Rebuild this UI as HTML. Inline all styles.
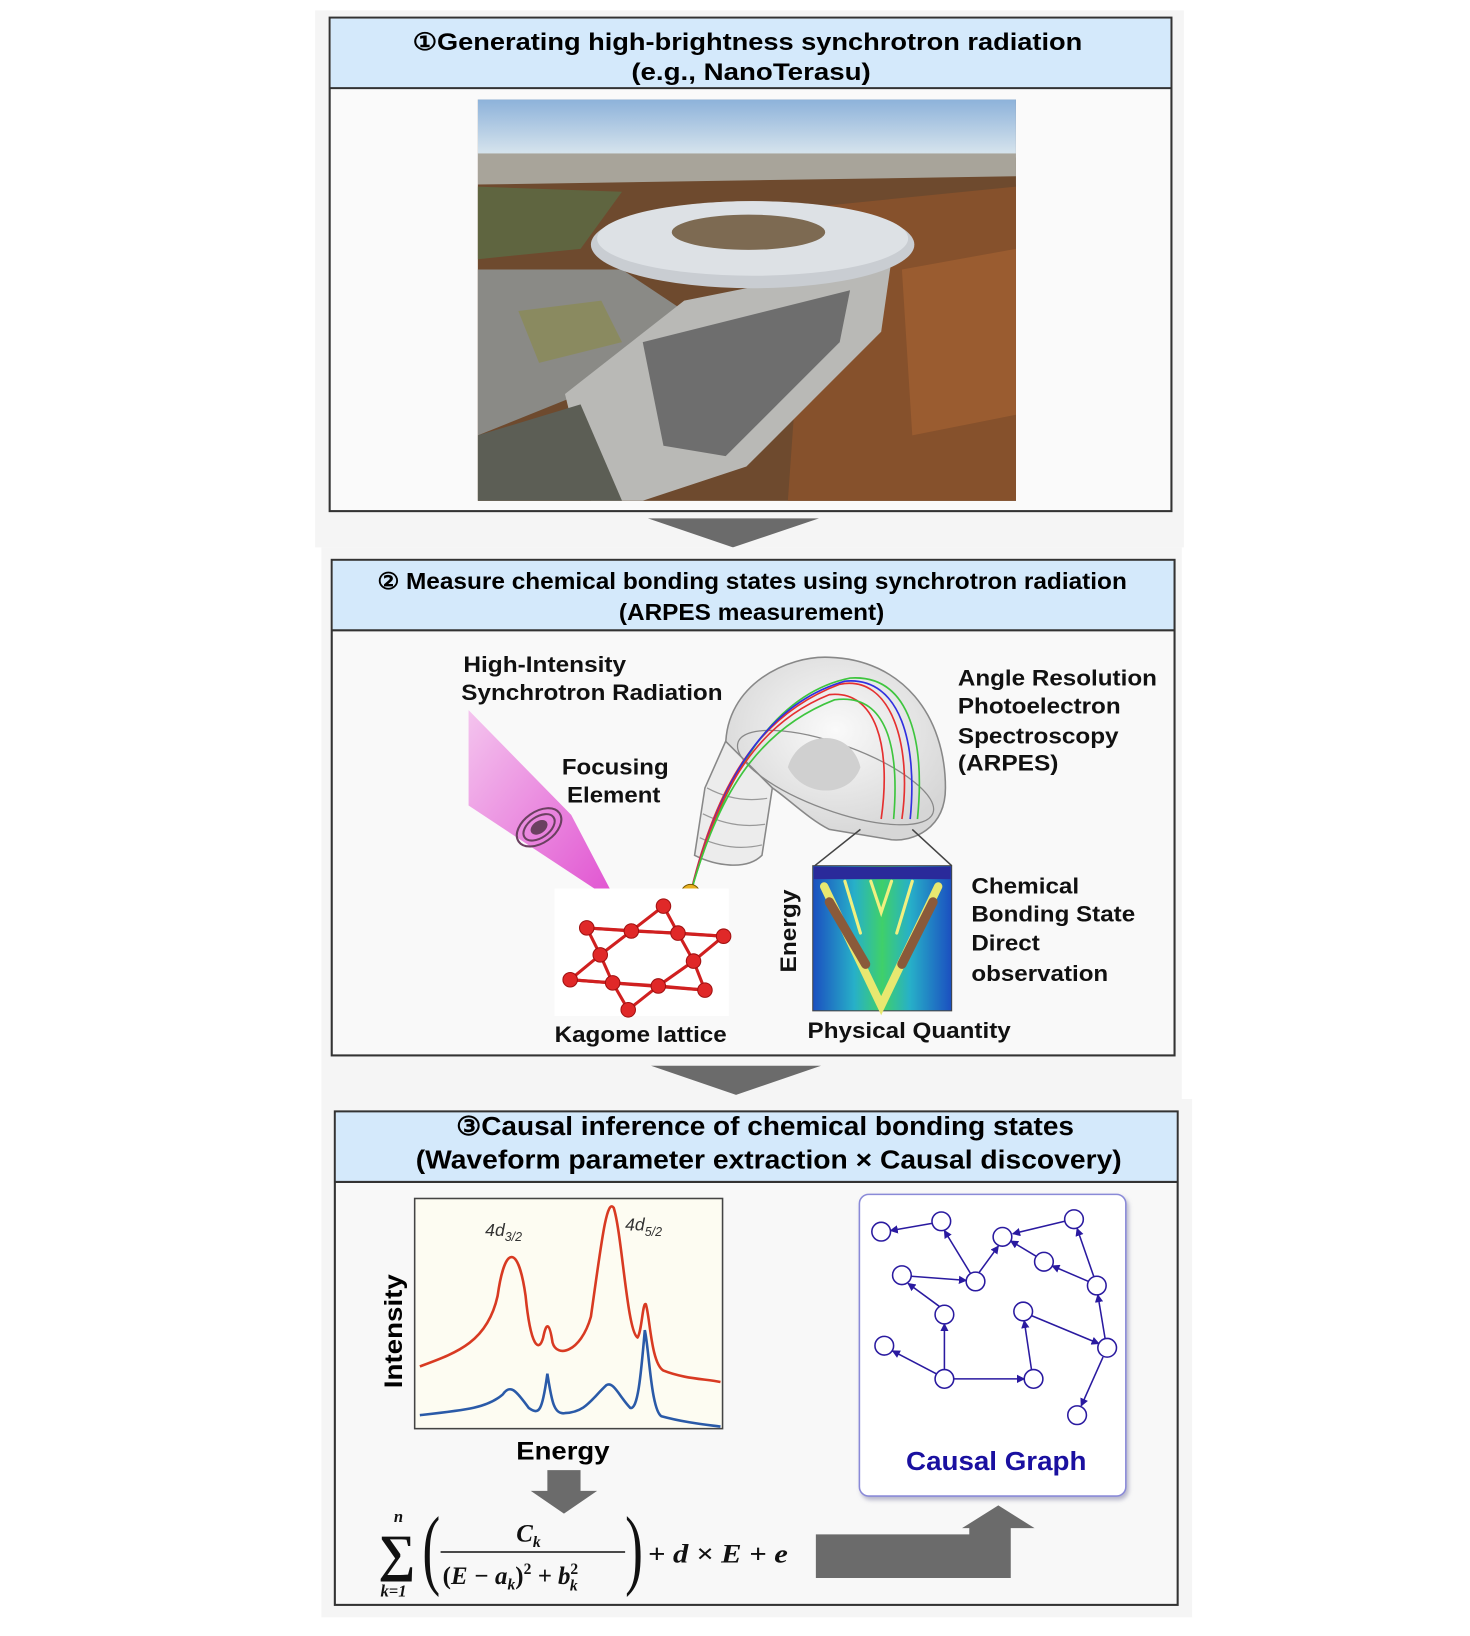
<!DOCTYPE html>
<html><head><meta charset="utf-8"><style>html,body{margin:0;padding:0;background:#fff}svg{display:block}</style></head><body>
<svg width="1470" height="1636" viewBox="0 0 1418 1578" preserveAspectRatio="none" xmlns="http://www.w3.org/2000/svg" font-family="Liberation Sans, sans-serif">
<defs>
<linearGradient id="sky" x1="0" y1="0" x2="0" y2="1"><stop offset="0" stop-color="#8db2da"/><stop offset="1" stop-color="#dbe7ee"/></linearGradient>
<linearGradient id="pink" x1="0" y1="0" x2="1" y2="1"><stop offset="0" stop-color="#f4c4ee"/><stop offset="1" stop-color="#e04fd0"/></linearGradient>
<radialGradient id="dome" cx="0.5" cy="0.4" r="0.6"><stop offset="0" stop-color="#fafafa"/><stop offset="1" stop-color="#d6d6d6"/></radialGradient>
<linearGradient id="arp" x1="0" y1="0" x2="1" y2="0"><stop offset="0" stop-color="#1b4fc0"/><stop offset="0.3" stop-color="#27b0c8"/><stop offset="0.5" stop-color="#3fd06a"/><stop offset="0.7" stop-color="#27b0c8"/><stop offset="1" stop-color="#1b4fc0"/></linearGradient>
<marker id="ah" markerWidth="8" markerHeight="8" refX="7" refY="4" orient="auto" markerUnits="userSpaceOnUse"><path d="M0,0 L8,4 L0,8 z" fill="#2a1aa0"/></marker>
<filter id="sh"><feDropShadow dx="2" dy="3" stdDeviation="2" flood-color="#8888aa" flood-opacity="0.6"/></filter>
</defs>

<!-- Panel 1 -->
<rect x="304" y="10" width="838" height="518" fill="#f5f5f5"/>
<rect x="318" y="17" width="812" height="476" fill="#fafafa" stroke="#333" stroke-width="2"/>
<rect x="319" y="18" width="810" height="67" fill="#d4e9fb"/>
<line x1="318" y1="85" x2="1130" y2="85" stroke="#333" stroke-width="2"/>
<text x="398" y="48" font-size="23" font-weight="bold" textLength="646" lengthAdjust="spacingAndGlyphs">①Generating high-brightness synchrotron radiation</text>
<text x="609" y="77" font-size="23" font-weight="bold" textLength="231" lengthAdjust="spacingAndGlyphs">(e.g., NanoTerasu)</text>
<!-- photo -->
<rect x="461" y="96" width="519" height="387" fill="#6a4a30"/>
<rect x="461" y="96" width="519" height="56" fill="url(#sky)"/>
<rect x="461" y="148" width="519" height="30" fill="#a8a49a"/>
<path d="M461,178 L980,170 L980,483 L461,483 z" fill="#6e4a2e"/>
<path d="M780,200 L980,180 L980,483 L760,483 z" fill="#86512c"/>
<path d="M870,260 L980,240 L980,400 L880,420 z" fill="#9a5c30"/>
<path d="M461,180 L600,185 L560,240 L461,250 z" fill="#5f6540"/>
<path d="M461,260 L600,260 L660,300 L560,380 L461,420 z" fill="#8a8a86"/>
<path d="M500,300 L580,290 L600,330 L520,350 z" fill="#8a8a60"/>
<path d="M545,380 L660,290 L860,250 L850,320 L720,450 L620,483 L570,483 z" fill="#b9b9b6"/>
<path d="M620,330 L820,280 L810,330 L700,440 L640,430 z" fill="#6e6e6e"/>
<path d="M461,420 L560,390 L600,483 L461,483 z" fill="#5c5e55"/>
<ellipse cx="726" cy="236" rx="156" ry="42" fill="#c9cdd2"/>
<ellipse cx="726" cy="230" rx="150" ry="36" fill="#dde1e5"/>
<ellipse cx="722" cy="224" rx="74" ry="17" fill="#7d6a52"/>

<polygon points="625,500 790,500 707,528" fill="#6b6b6b"/>

<!-- Panel 2 -->
<rect x="310" y="528" width="830" height="532" fill="#f5f5f5"/>
<rect x="320" y="540" width="813" height="478" fill="#f9f9f9" stroke="#333" stroke-width="2"/>
<rect x="321" y="541" width="811" height="67" fill="#d4e9fb"/>
<line x1="320" y1="608" x2="1133" y2="608" stroke="#333" stroke-width="2"/>
<text x="364" y="568" font-size="22" font-weight="bold" textLength="723" lengthAdjust="spacingAndGlyphs">② Measure chemical bonding states using synchrotron radiation</text>
<text x="597" y="598" font-size="22" font-weight="bold" textLength="256" lengthAdjust="spacingAndGlyphs">(ARPES measurement)</text>

<polygon points="452,685 452,777 596,872 551,786" fill="url(#pink)"/>
<g fill="none" stroke="#6b4060" stroke-width="2"><ellipse cx="520" cy="798" rx="24" ry="15" transform="rotate(-35 520 798)"/><ellipse cx="520" cy="798" rx="17" ry="10" transform="rotate(-35 520 798)"/></g>
<ellipse cx="520" cy="798" rx="9" ry="6" fill="#6b4060" transform="rotate(-35 520 798)"/>

<!-- analyzer -->
<path d="M700,720 C700,660 760,632 800,634 C870,636 912,690 912,760 C912,800 880,812 860,810 L800,800 C780,790 760,770 745,760 Z" fill="url(#dome)" stroke="#888" stroke-width="1.5"/>
<path d="M700,715 L745,760 L735,825 C720,840 690,835 670,825 L680,760 Z" fill="#ececec" stroke="#888" stroke-width="1.5"/>
<g fill="none" stroke="#999" stroke-width="1.2"><path d="M682,760 Q710,775 740,770"/><path d="M678,785 Q708,800 738,795"/><path d="M675,808 Q705,822 735,815"/></g>
<ellipse cx="806" cy="750" rx="100" ry="32" fill="none" stroke="#888" stroke-width="1.2" transform="rotate(20 806 750)"/>
<path d="M760,740 C770,705 820,700 830,740 C820,770 775,770 760,740 Z" fill="#d0d0d0"/>
<g fill="none" stroke-width="1.6"><path d="M666,862 C690,760 730,690 810,660 C860,650 880,720 870,790" stroke="#e53030"/><path d="M666,862 C695,760 740,670 820,654 C880,650 892,720 885,790" stroke="#3ec53e"/><path d="M666,862 C692,760 735,680 815,657 C870,652 885,720 878,790" stroke="#3030e0"/><path d="M666,862 C690,770 725,700 800,670 C845,665 860,720 850,790" stroke="#e53030"/><path d="M666,862 C692,770 728,705 805,675 C855,668 868,720 862,790" stroke="#3ec53e"/></g>
<circle cx="666" cy="862" r="9" fill="#e8b020" stroke="#7a5a00"/>
<text x="666" y="867" text-anchor="middle" font-size="12" font-weight="bold">e</text>

<!-- kagome -->
<rect x="535" y="857" width="168" height="123" fill="#fff"/>
<g stroke="#d02020" stroke-width="3" fill="none">
<polyline points="566,895 698,903"/><polyline points="550,945 680,955"/>
<polygon points="566,895 609,898 579,921"/><polygon points="654,900 698,903 669,927"/>
<polygon points="550,945 579,921 591,948"/><polygon points="635,951 669,927 680,955"/>
<polygon points="591,948 635,951 606,974"/><polygon points="609,898 654,900 640,874"/>
</g>
<g fill="#e02828" stroke="#a01010">
<circle cx="640" cy="874" r="7"/><circle cx="566" cy="895" r="7"/><circle cx="609" cy="898" r="7"/><circle cx="654" cy="900" r="7"/><circle cx="698" cy="903" r="7"/><circle cx="579" cy="921" r="7"/><circle cx="669" cy="927" r="7"/><circle cx="550" cy="945" r="7"/><circle cx="591" cy="948" r="7"/><circle cx="635" cy="951" r="7"/><circle cx="680" cy="955" r="7"/><circle cx="606" cy="974" r="7"/></g>

<!-- arpes image -->
<line x1="830" y1="800" x2="786" y2="835" stroke="#444" stroke-width="1.5"/>
<line x1="880" y1="800" x2="918" y2="835" stroke="#444" stroke-width="1.5"/>
<rect x="784" y="835" width="134" height="140" fill="url(#arp)" stroke="#444"/>
<rect x="785" y="836" width="132" height="12" fill="#2a2a9a"/>
<g fill="none" stroke-linecap="round">
<path d="M795,855 L850,970 L905,855" stroke="#e8e870" stroke-width="8"/>
<path d="M800,870 L835,930" stroke="#8a5a3a" stroke-width="9"/>
<path d="M900,870 L870,930" stroke="#8a5a3a" stroke-width="9"/>
<path d="M815,850 L830,900 M880,850 L865,900 M840,850 L850,880 L860,850" stroke="#f0f080" stroke-width="3"/>
</g>

<g font-size="21" font-weight="bold" fill="#111" lengthAdjust="spacingAndGlyphs">
<text x="447" y="648" textLength="157" lengthAdjust="spacingAndGlyphs">High-Intensity</text><text x="445" y="675" textLength="252" lengthAdjust="spacingAndGlyphs">Synchrotron Radiation</text>
<text x="542" y="747" textLength="103" lengthAdjust="spacingAndGlyphs">Focusing</text><text x="547" y="774" textLength="90" lengthAdjust="spacingAndGlyphs">Element</text>
<text x="924" y="661" textLength="192" lengthAdjust="spacingAndGlyphs">Angle Resolution</text><text x="924" y="688" textLength="157" lengthAdjust="spacingAndGlyphs">Photoelectron</text><text x="924" y="717" textLength="155" lengthAdjust="spacingAndGlyphs">Spectroscopy</text><text x="924" y="743" textLength="97" lengthAdjust="spacingAndGlyphs">(ARPES)</text>
<text x="937" y="862" textLength="104" lengthAdjust="spacingAndGlyphs">Chemical</text><text x="937" y="889" textLength="158" lengthAdjust="spacingAndGlyphs">Bonding State</text><text x="937" y="917" textLength="66" lengthAdjust="spacingAndGlyphs">Direct</text><text x="937" y="946" textLength="132" lengthAdjust="spacingAndGlyphs">observation</text>
<text x="535" y="1005" textLength="166" lengthAdjust="spacingAndGlyphs">Kagome lattice</text><text x="779" y="1001" textLength="196" lengthAdjust="spacingAndGlyphs">Physical Quantity</text>
<text transform="translate(768,938) rotate(-90)" textLength="80" lengthAdjust="spacingAndGlyphs">Energy</text>
</g>

<polygon points="628,1028 792,1028 710,1056" fill="#6b6b6b"/>

<!-- Panel 3 -->
<rect x="310" y="1060" width="840" height="500" fill="#f5f5f5"/>
<rect x="323" y="1072" width="813" height="476" fill="#f8f8f8" stroke="#333" stroke-width="2"/>
<rect x="324" y="1073" width="811" height="67" fill="#d4e9fb"/>
<line x1="323" y1="1140" x2="1136" y2="1140" stroke="#333" stroke-width="2"/>
<text x="440" y="1095" font-size="25" font-weight="bold" textLength="596" lengthAdjust="spacingAndGlyphs">③Causal inference of chemical bonding states</text>
<text x="401" y="1127" font-size="25" font-weight="bold" textLength="681" lengthAdjust="spacingAndGlyphs">(Waveform parameter extraction × Causal discovery)</text>

<rect x="400" y="1156" width="297" height="222" fill="#fdfcf2" stroke="#444" stroke-width="1.5"/>
<path d="M405,1318 C440,1305 470,1295 480,1250 C487,1200 500,1200 507,1250 C512,1300 520,1305 524,1290 C527,1275 530,1275 533,1295 C537,1310 560,1305 570,1270 C580,1200 585,1155 592,1165 C600,1190 605,1285 615,1290 C619,1285 620,1255 623,1258 C627,1270 628,1315 640,1322 C660,1330 680,1330 695,1333" fill="none" stroke="#d83a22" stroke-width="2.5"/>
<path d="M405,1365 C450,1360 470,1358 485,1345 C492,1335 497,1340 510,1358 C520,1365 523,1362 528,1325 C532,1350 534,1365 545,1363 C565,1362 570,1350 585,1336 C592,1332 598,1348 608,1358 C615,1360 618,1330 622,1283 C626,1300 628,1360 638,1366 C660,1372 680,1374 695,1376" fill="none" stroke="#2a5aa8" stroke-width="2.5"/>
<text x="468" y="1192" font-size="17" font-style="italic" fill="#333">4d<tspan font-size="12" dy="5">3/2</tspan></text>
<text x="603" y="1187" font-size="17" font-style="italic" fill="#333">4d<tspan font-size="12" dy="5">5/2</tspan></text>
<text transform="translate(388,1339) rotate(-90)" font-size="24" font-weight="bold" textLength="110" lengthAdjust="spacingAndGlyphs">Intensity</text>
<text x="498" y="1408" font-size="24" font-weight="bold" textLength="90" lengthAdjust="spacingAndGlyphs">Energy</text>

<polygon points="528,1418 560,1418 560,1438 576,1438 544,1460 512,1438 528,1438" fill="#6b6b6b"/>

<!-- formula -->
<g font-family="Liberation Serif, serif" font-weight="bold" font-style="italic" fill="#111">
<text x="365" y="1515" font-size="50" font-style="normal">∑</text>
<text x="380" y="1468" font-size="16">n</text>
<text x="367" y="1540" font-size="16">k=1</text>
<text x="407" y="1522" font-size="86" font-weight="normal" font-style="normal" transform="scale(0.6,1) translate(272,0)">(</text>
<text x="498" y="1487" font-size="24">C<tspan font-size="15" dy="5">k</tspan></text>
<line x1="425" y1="1497" x2="603" y2="1497" stroke="#111" stroke-width="1.5"/>
<text x="427" y="1528" font-size="24"><tspan font-style="normal">(</tspan>E − a<tspan font-size="15" dy="5">k</tspan><tspan dy="-5" font-style="normal">)</tspan><tspan font-size="15" dy="-10" font-style="normal">2</tspan><tspan dy="10"> + b</tspan><tspan font-size="15" dy="-10" font-style="normal">2</tspan><tspan font-size="15" dx="-8" dy="16">k</tspan></text>
<text x="603" y="1522" font-size="86" font-weight="normal" font-style="normal" transform="scale(0.6,1) translate(402,0)">)</text>
<text x="625" y="1507" font-size="25" textLength="135" lengthAdjust="spacingAndGlyphs">+ d × E + e</text>
</g>

<!-- L arrow -->
<path d="M787,1480 L935,1480 L935,1474 L928,1474 L963,1452 L998,1474 L975,1474 L975,1522 L787,1522 Z" fill="#6b6b6b"/>

<!-- causal graph -->
<rect x="829" y="1152" width="257" height="291" rx="9" fill="#fff" stroke="#8a8ad8" stroke-width="1.5" filter="url(#sh)"/>
<g stroke="#2a1aa0" stroke-width="1.5" marker-end="url(#ah)">
<line x1="899" y1="1180" x2="859" y2="1187"/>
<line x1="936" y1="1228" x2="911" y2="1187"/>
<line x1="944" y1="1228" x2="963" y2="1202"/>
<line x1="1027" y1="1178" x2="977" y2="1190"/>
<line x1="879" y1="1231" x2="932" y2="1235"/>
<line x1="906" y1="1260" x2="876" y2="1238"/>
<line x1="911" y1="1321" x2="911" y2="1277"/>
<line x1="903" y1="1325" x2="861" y2="1303"/>
<line x1="920" y1="1330" x2="988" y2="1330"/>
<line x1="995" y1="1321" x2="988" y2="1274"/>
<line x1="995" y1="1269" x2="1060" y2="1296"/>
<line x1="1066" y1="1291" x2="1059" y2="1249"/>
<line x1="1055" y1="1231" x2="1039" y2="1185"/>
<line x1="1050" y1="1236" x2="1015" y2="1221"/>
<line x1="1064" y1="1309" x2="1043" y2="1356"/>
<line x1="1000" y1="1212" x2="975" y2="1197"/>
</g>
<g fill="#fff" stroke="#2a1aa0" stroke-width="1.5">
<circle cx="850" cy="1188" r="9"/><circle cx="908" cy="1178" r="9"/><circle cx="967" cy="1193" r="9"/><circle cx="1036" cy="1176" r="9"/><circle cx="870" cy="1230" r="9"/><circle cx="941" cy="1236" r="9"/><circle cx="1007" cy="1217" r="9"/><circle cx="1058" cy="1240" r="9"/><circle cx="911" cy="1268" r="9"/><circle cx="987" cy="1265" r="9"/><circle cx="853" cy="1298" r="9"/><circle cx="1068" cy="1300" r="9"/><circle cx="911" cy="1330" r="9"/><circle cx="997" cy="1330" r="9"/><circle cx="1039" cy="1365" r="9"/>
</g>
<text x="874" y="1418" font-size="25" font-weight="bold" fill="#1a10a0" textLength="174" lengthAdjust="spacingAndGlyphs">Causal Graph</text>
</svg>
</body></html>
